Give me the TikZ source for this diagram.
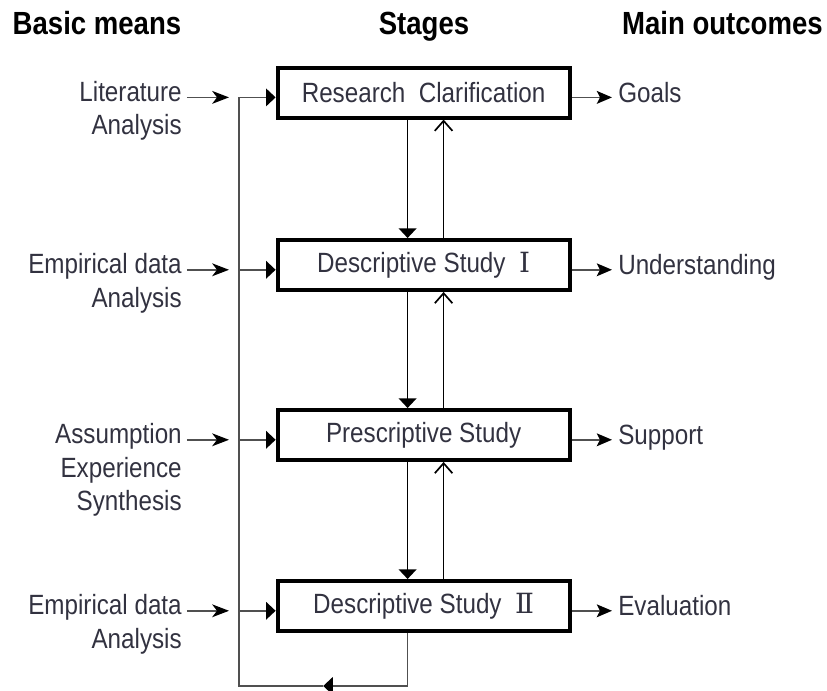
\documentclass[tikz,border=0pt]{standalone}
\usepackage{fontspec}
\setmainfont{Liberation Sans}[FakeStretch=0.87]
\newfontfamily\headfont{Liberation Sans}[FakeStretch=0.86]
\newfontfamily\numfont{DejaVu Serif}
\usetikzlibrary{arrows.meta,positioning}
\definecolor{txtgray}{RGB}{50,50,64}
\definecolor{linegray}{RGB}{80,80,80}

\begin{document}
\begin{tikzpicture}[
  stage/.style={draw, line width=2.8pt, minimum width=7.3cm, minimum height=1.25cm, inner sep=0pt, text=txtgray, font=\fontsize{19.8}{23.8}\selectfont},
  means/.style={anchor=north east, align=right, inner sep=0pt, text=txtgray, font=\fontsize{19.8}{23.8}\selectfont},
  outcome/.style={anchor=base west, inner sep=0pt, text=txtgray, font=\fontsize{19.8}{23.8}\selectfont},
  header/.style={anchor=base, inner sep=0pt, font=\headfont\bfseries\fontsize{22.8}{27}\selectfont},
  link/.style={linegray, line width=1.2pt},
  feed/.style={black, line width=1.2pt},
  intip/.style={-{Stealth[length=0.42cm, width=0.32cm, inset=0.12cm, color=black]}},
  outtip/.style={-{Stealth[length=0.38cm, width=0.32cm, inset=0.08cm, color=black]}},
  filltip/.style={-{Triangle[length=0.24cm, width=0.44cm, color=black]}},
  opentip/.style={-{Straight Barb[length=0.25cm, width=0.44cm]}}
]
\useasboundingbox (0,0) rectangle (20.675,17.275);
% Headers
\node[header] (hmeans) at (2.425,16.4) {Basic means};
\node[header] (hstages) at (10.6,16.4) {Stages};
\node[header] (houtcomes) at (18.06,16.4) {Main outcomes};
% Stage boxes
\node[stage] (rc) at (10.59,14.96) {Research\ \ Clarification};
\node[stage] (ds1) at (10.59,10.65) {Descriptive Study~~{\numfont Ⅰ}};
\node[stage] (ps) at (10.59,6.4) {Prescriptive Study};
\node[stage] (ds2) at (10.59,2.125) {Descriptive Study~~{\numfont Ⅱ}};
% Basic means
\node[means] (m1) at (4.55,15.25) {Literature\\Analysis};
\node[means] (m2) at (4.55,10.94) {Empirical data\\Analysis};
\node[means] (m3) at (4.55,6.69) {Assumption\\Experience\\Synthesis};
\node[means] (m4) at (4.55,2.415) {Empirical data\\Analysis};
% Main outcomes
\node[outcome] (goals) at (15.45,14.72) {Goals};
\node[outcome] (under) at (15.45,10.41) {Understanding};
\node[outcome] (support) at (15.45,6.16) {Support};
\node[outcome] (eval) at (15.45,1.885) {Evaluation};
% Arrow levels
\coordinate (rcl) at ([yshift=-0.12cm]rc.west);  \coordinate (rcr) at ([yshift=-0.12cm]rc.east);
\coordinate (ds1l) at ([yshift=-0.12cm]ds1.west); \coordinate (ds1r) at ([yshift=-0.12cm]ds1.east);
\coordinate (psl) at ([yshift=-0.12cm]ps.west);  \coordinate (psr) at ([yshift=-0.12cm]ps.east);
\coordinate (ds2l) at ([yshift=-0.12cm]ds2.west); \coordinate (ds2r) at ([yshift=-0.12cm]ds2.east);
\coordinate (bus) at (5.975,0.125);
\coordinate (turn) at (10.19,0.125);
\coordinate (mid) at (8.08,0.125);
% Stage to stage
\draw[feed, filltip] ([xshift=-0.4cm]rc.south) -- ([xshift=-0.4cm]ds1.north);
\draw[feed, opentip] ([xshift=0.5cm]ds1.north) -- ([xshift=0.5cm]rc.south);
\draw[feed, filltip] ([xshift=-0.4cm]ds1.south) -- ([xshift=-0.4cm]ps.north);
\draw[feed, opentip] ([xshift=0.5cm]ps.north) -- ([xshift=0.5cm]ds1.south);
\draw[feed, filltip] ([xshift=-0.4cm]ps.south) -- ([xshift=-0.4cm]ds2.north);
\draw[feed, opentip] ([xshift=0.5cm]ds2.north) -- ([xshift=0.5cm]ps.south);
% Feedback loop
\draw[link, filltip] (turn |- ds2.south) -- (turn) -- (mid);
\draw[link, filltip] (mid) -- (bus) |- (rcl);
\draw[link, filltip] (bus |- ds1l) -- (ds1l);
\draw[link, filltip] (bus |- psl) -- (psl);
\draw[link, filltip] (bus |- ds2l) -- (ds2l);
% Inputs
\draw[link, intip, shorten <=0.12cm, shorten >=0.25cm] (rcl -| m1.east) -- (rcl -| bus);
\draw[link, intip, shorten <=0.12cm, shorten >=0.25cm] (ds1l -| m2.east) -- (ds1l -| bus);
\draw[link, intip, shorten <=0.12cm, shorten >=0.25cm] (psl -| m3.east) -- (psl -| bus);
\draw[link, intip, shorten <=0.12cm, shorten >=0.25cm] (ds2l -| m4.east) -- (ds2l -| bus);
% Outputs
\draw[link, outtip, shorten >=0.15cm] (rcr) -- (rcr -| goals.west);
\draw[link, outtip, shorten >=0.15cm] (ds1r) -- (ds1r -| under.west);
\draw[link, outtip, shorten >=0.15cm] (psr) -- (psr -| support.west);
\draw[link, outtip, shorten >=0.15cm] (ds2r) -- (ds2r -| eval.west);
\end{tikzpicture}
\end{document}
